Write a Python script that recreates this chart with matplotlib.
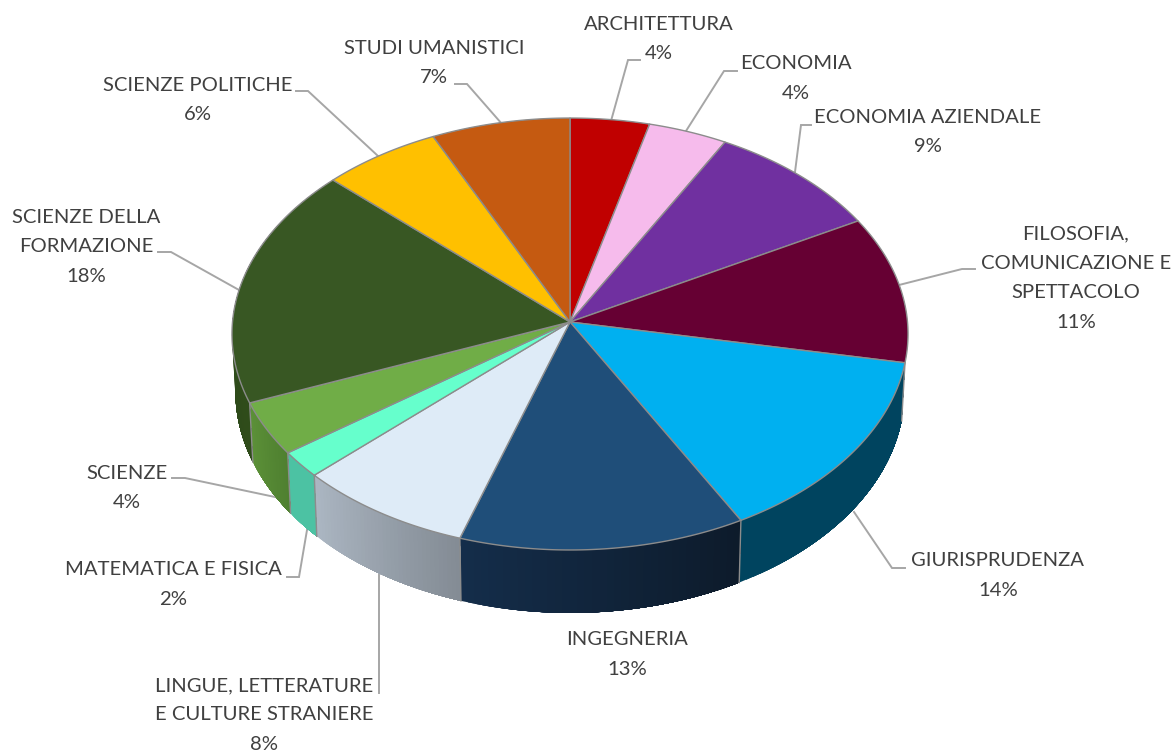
import numpy as np
import matplotlib
matplotlib.use("Agg")
import matplotlib.pyplot as plt
from matplotlib.colors import to_rgb
from matplotlib.patches import Polygon

plt.rcParams['font.family'] = ['Lato', 'DejaVu Sans']

# Slices, clockwise from the top of the disc
facolta = ["ARCHITETTURA", "ECONOMIA", "ECONOMIA AZIENDALE",
           "FILOSOFIA,\nCOMUNICAZIONE E\nSPETTACOLO", "GIURISPRUDENZA", "INGEGNERIA",
           "LINGUE, LETTERATURE\nE CULTURE STRANIERE", "MATEMATICA E FISICA", "SCIENZE",
           "SCIENZE DELLA\nFORMAZIONE", "SCIENZE POLITICHE", "STUDI UMANISTICI"]
percentuali = [4, 4, 9, 11, 14, 13, 8, 2, 4, 18, 6, 7]

colori = ["#C00000", "#F6BBEC", "#7030A0", "#660033", "#00B0F0", "#1F4E79",
          "#DEEBF7", "#66FFCC", "#70AD47", "#385723", "#FFC000", "#C55A11"]
# side wall colour at the two ends of each slice, None where the wall can't be seen
lato_da = [None, None, None, None, "#00445F", "#0D1B2B",
           "#848C95", "#4CC2A3", "#4F8030", "#2F4C1A", None, None]
lato_a = [None, None, None, None, "#00445F", "#142D4A",
          "#ABB6C2", "#4CC2A3", "#5C9138", "#2A4518", None, None]

# label block centres and leader polylines, in pixels
pos_etichette = [(659, 39), (796, 78.5), (928, 132), (1076, 278), (998, 575.5), (627, 654.5),
                 (264, 715), (173, 584.5), (127, 488), (86, 247), (198, 100), (434, 63)]
guide = [[(640, 60), (628, 60), (611, 121)],
         [(737, 71), (724, 71), (686, 131)],
         [(811, 125), (801, 125), (795, 172)],
         [(975, 269), (962, 269), (899, 285)],
         [(905, 568), (892, 568), (854, 512)],
         None,
         [(379, 693), (379, 575)],
         [(287, 577), (299, 577), (307, 530)],
         [(172, 478), (185, 478), (275, 497)],
         [(158, 252), (171, 252), (239, 290)],
         [(296, 91), (308, 91), (378, 156)],
         [(455, 84), (467, 84), (502, 124)]]

W, H = 1176, 754
cx, cy = 570, 322
R, S, k = 337.5, 215.3, 0.0556


def top_rim(theta):
    # perspective view of the unit disc, theta clockwise from the far edge
    u, v = np.sin(theta), -np.cos(theta)
    w = 1 - k * v
    return cx + R * u / w, cy + S * v / w


def low_rim(theta):
    x, y = top_rim(theta)
    v = -np.cos(theta)
    return cx + (x - cx) * 0.99, y + 57 + 6 * v


fig = plt.figure(figsize=(W / 100, H / 100), dpi=100)
ax = fig.add_axes([0, 0, 1, 1])
ax.set_xlim(0, W)
ax.set_ylim(H, 0)
ax.axis("off")

bordi = np.cumsum([0] + percentuali) / sum(percentuali) * 2 * np.pi
linea = "#8C8C8C"

# side wall: overlapping strips so the shading can vary along a slice without seams
for i in range(len(percentuali)):
    if lato_da[i] is None:
        continue
    a0, a1 = bordi[i], bordi[i + 1]
    t = np.linspace(a0, a1, 40)
    c0, c1 = np.array(to_rgb(lato_da[i])), np.array(to_rgb(lato_a[i]))
    for j in range(len(t) - 1, 0, -1):
        seg = np.linspace(a0, t[j], 12)
        xs, ys = top_rim(seg)
        xl, yl = low_rim(seg[::-1])
        c = c0 + (c1 - c0) * (j - 1) / (len(t) - 2)
        ax.add_patch(Polygon(list(zip(xs, ys)) + list(zip(xl, yl)), closed=True,
                             facecolor=c, edgecolor="none", zorder=1))
    xa, ya = top_rim(a0)
    xd, yd = low_rim(a0)
    ax.plot([xa, xd], [ya, yd], color=linea, lw=1, zorder=2)

# disc on top
for i in range(len(percentuali)):
    t = np.linspace(bordi[i], bordi[i + 1], 120)
    x, y = top_rim(t)
    pts = [(cx, cy)] + list(zip(x, y))
    ax.add_patch(Polygon(pts, closed=True, facecolor=colori[i], edgecolor=linea,
                         lw=1, joinstyle="round", zorder=3))

# labels and leaders
for i in range(len(facolta)):
    lx, ly = pos_etichette[i]
    ax.text(lx, ly, f"{facolta[i]}\n{percentuali[i]}%", ha="center", va="center",
            multialignment="center", fontsize=14.6, color="#404040", linespacing=1.9, zorder=5)
    if guide[i] is not None:
        gx, gy = zip(*guide[i])
        ax.plot(gx, gy, color="#A6A6A6", lw=1.4, solid_joinstyle="miter", zorder=0)

fig.savefig("out.png", dpi=100, facecolor="white")
